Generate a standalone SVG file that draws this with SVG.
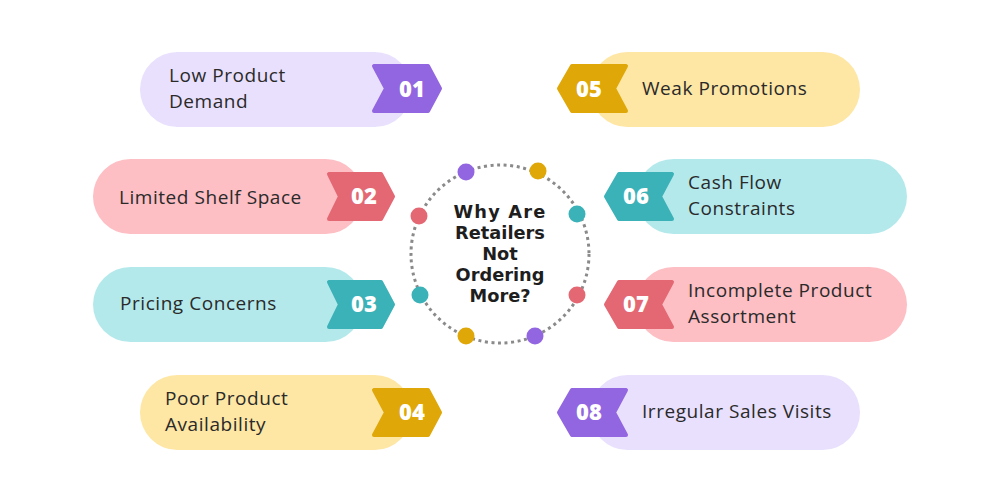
<svg xmlns="http://www.w3.org/2000/svg" width="1000" height="500" viewBox="0 0 1000 500">
<style>
.lbl{font-family:"Open Sans","Noto Sans","Liberation Sans",sans-serif;font-size:19px;letter-spacing:0.55px;fill:#2a2a2a}
.num{font-family:"Open Sans","Noto Sans","Liberation Sans",sans-serif;font-size:22px;font-weight:800;fill:#fff;text-anchor:middle}
.ttl{font-family:"DejaVu Sans","Liberation Sans",sans-serif;font-size:17.8px;font-weight:700;fill:#1e1e1e;text-anchor:middle}
.badge{stroke-linejoin:round;stroke-width:4}
.purple{fill:#9366E1;stroke:#9366E1}
.red{fill:#E46873;stroke:#E46873}
.teal{fill:#3BB2B8;stroke:#3BB2B8}
.gold{fill:#DFA707;stroke:#DFA707}
</style>
<rect width="1000" height="500" fill="#fff"/>
<g id="center">
<circle cx="500" cy="254" r="89" fill="none" stroke="#8a8a8a" stroke-width="3" stroke-dasharray="3 3.6"/>
<circle cx="466" cy="172" r="8.5" fill="#9366E1"/>
<circle cx="538" cy="171" r="8.5" fill="#DFA707"/>
<circle cx="577" cy="214" r="8.5" fill="#3BB2B8"/>
<circle cx="577" cy="295" r="8.5" fill="#E46873"/>
<circle cx="535" cy="336" r="8.5" fill="#9366E1"/>
<circle cx="466" cy="336" r="8.5" fill="#DFA707"/>
<circle cx="420" cy="295" r="8.5" fill="#3BB2B8"/>
<circle cx="419" cy="216" r="8.5" fill="#E46873"/>
<text class="ttl" x="500" y="218" letter-spacing="1.2">Why Are</text>
<text class="ttl" x="500" y="239">Retailers</text>
<text class="ttl" x="500" y="260">Not</text>
<text class="ttl" x="500" y="281">Ordering</text>
<text class="ttl" x="500" y="302">More?</text>
</g>
<g id="connectors"></g>
<g id="n01">
<rect x="140" y="52" width="272" height="75" rx="37.5" fill="#E9E0FD"/>
<polygon class="badge purple" points="374,66 428,66 440,88.5 428,111 374,111 386,88.5"/>
<text class="num" x="412" y="97">01</text>
<text class="lbl" x="169" y="82">Low Product</text>
<text class="lbl" x="169" y="108">Demand</text>
</g>
<g id="n02">
<rect x="93" y="159" width="270" height="75" rx="37.5" fill="#FDBEC4"/>
<polygon class="badge red" points="329,174 381,174 393,196.5 381,219 329,219 340,196.5"/>
<text class="num" x="364" y="204">02</text>
<text class="lbl" x="119" y="204">Limited Shelf Space</text>
</g>
<g id="n03">
<rect x="93" y="267" width="270" height="75" rx="37.5" fill="#B4E9EC"/>
<polygon class="badge teal" points="329,282 381,282 393,304.5 381,327 329,327 340,304.5"/>
<text class="num" x="364" y="312">03</text>
<text class="lbl" x="120" y="310">Pricing Concerns</text>
</g>
<g id="n04">
<rect x="140" y="375" width="272" height="75" rx="37.5" fill="#FEE6A4"/>
<polygon class="badge gold" points="374,390 428,390 440,412.5 428,435 374,435 386,412.5"/>
<text class="num" x="412" y="420">04</text>
<text class="lbl" x="165" y="405">Poor Product</text>
<text class="lbl" x="165" y="431">Availability</text>
</g>
<g id="n05">
<rect x="590" y="52" width="270" height="75" rx="37.5" fill="#FEE6A4"/>
<polygon class="badge gold" points="626,66 572,66 559,88.5 572,111 626,111 614,88.5"/>
<text class="num" x="589" y="97">05</text>
<text class="lbl" x="642" y="95">Weak Promotions</text>
</g>
<g id="n06">
<rect x="636" y="159" width="271" height="75" rx="37.5" fill="#B4E9EC"/>
<polygon class="badge teal" points="672,174 619,174 606,196.5 619,219 672,219 660,196.5"/>
<text class="num" x="636" y="204">06</text>
<text class="lbl" x="688" y="189">Cash Flow</text>
<text class="lbl" x="688" y="215">Constraints</text>
</g>
<g id="n07">
<rect x="636" y="267" width="271" height="75" rx="37.5" fill="#FDBEC4"/>
<polygon class="badge red" points="672,282 619,282 606,304.5 619,327 672,327 660,304.5"/>
<text class="num" x="636" y="312">07</text>
<text class="lbl" x="688" y="297">Incomplete Product</text>
<text class="lbl" x="688" y="323">Assortment</text>
</g>
<g id="n08">
<rect x="590" y="375" width="270" height="75" rx="37.5" fill="#E9E0FD"/>
<polygon class="badge purple" points="626,390 572,390 559,412.5 572,435 626,435 614,412.5"/>
<text class="num" x="589" y="420">08</text>
<text class="lbl" x="642" y="418">Irregular Sales Visits</text>
</g>
</svg>
